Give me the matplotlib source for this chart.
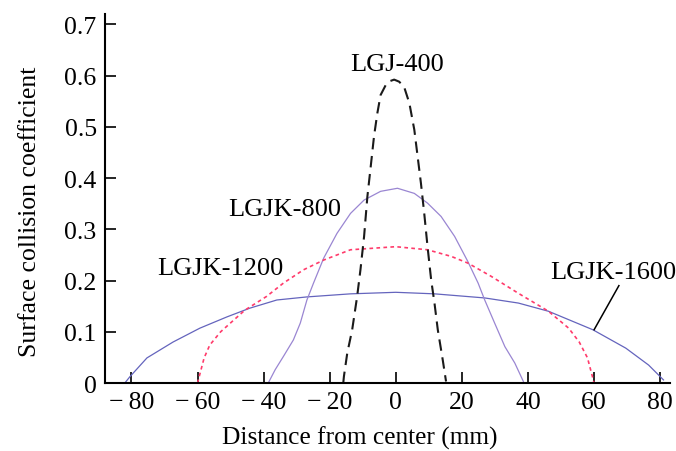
import numpy as np
import matplotlib
matplotlib.use('Agg')
import matplotlib.pyplot as plt

# Valores (distancia em mm, coeficiente)
x400 = [-15.9, -15.7, -14.7, -13.2, -11.7, -10.7, -9.6, -8.6, -7.6, -6.6, -5.6, -4.6, -3.0, -1.8, -0.5,
        1.0, 2.5, 4.1, 5.6, 6.6, 7.6, 8.6, 9.6, 10.7, 11.7, 12.7, 14.2, 15.2]
y400 = [0, 0.013, 0.058, 0.104, 0.169, 0.221, 0.286, 0.364, 0.422, 0.481, 0.526, 0.562, 0.582, 0.589, 0.592,
        0.588, 0.578, 0.546, 0.494, 0.442, 0.390, 0.331, 0.266, 0.201, 0.156, 0.104, 0.045, 0.003]

x800 = [-38.6, -36.5, -34.0, -31.0, -28.9, -26.9, -24.9, -21.8, -17.8, -13.7, -9.6, -4.6, 0.5,
        5.6, 9.6, 13.7, 17.8, 21.8, 24.9, 26.9, 29.9, 33.0, 36.0, 38.6]
y800 = [0, 0.026, 0.052, 0.084, 0.117, 0.162, 0.195, 0.244, 0.292, 0.331, 0.357, 0.374, 0.380,
        0.370, 0.351, 0.325, 0.286, 0.237, 0.195, 0.162, 0.117, 0.071, 0.039, 0.003]

x1200 = [-60, -58, -56.3, -53, -45.7, -39.1, -34.0, -27.9, -21.8, -13.7, 0, 9.6, 16.8, 21.8,
         28.9, 37.1, 46.2, 52.3, 55.5, 58, 60]
y1200 = [0, 0.049, 0.074, 0.10, 0.142, 0.169, 0.195, 0.221, 0.240, 0.260, 0.266, 0.260, 0.247, 0.234,
         0.208, 0.175, 0.140, 0.107, 0.08, 0.049, 0]

x1600 = [-82, -80.5, -75.3, -67.4, -59.3, -51.1, -44.2, -36.0, -26.9, -13.7, 0, 11.7, 26.9, 37.1,
         46.2, 59.6, 69.6, 76.5, 81]
y1600 = [0, 0.012, 0.049, 0.08, 0.107, 0.129, 0.146, 0.162, 0.168, 0.174, 0.177, 0.174, 0.166, 0.156,
         0.140, 0.104, 0.068, 0.035, 0.006]

xticks = [-80, -60, -40, -20, 0, 20, 40, 60, 80]
yticks = [0, 0.1, 0.2, 0.3, 0.4, 0.5, 0.6, 0.7]
ylabels = ['0', '0.1', '0.2', '0.3', '0.4', '0.5', '0.6', '0.7']

plt.rcParams['font.family'] = ['Liberation Serif', 'DejaVu Serif']

fig = plt.figure(figsize=(6.76, 4.52), dpi=100)
ax = fig.add_axes([0.1553, 0.1504, 0.836, 0.8164])

ax.plot(x1600, y1600, color='#6464bd', lw=0.9)
ax.plot(x800, y800, color='#9a86d2', lw=0.9)
ax.plot(x1200, y1200, color='#ff3b6b', lw=1.2, dashes=(2.2, 2.0))
ax.plot(x400, y400, color='#1a1a1a', lw=1.5, dashes=(5.5, 3.2))

ax.text(0.3, 0.622, 'LGJ-400', ha='center', va='center', fontsize=19)
ax.text(-33.7, 0.339, 'LGJK-800', ha='center', va='center', fontsize=19)
ax.text(-53, 0.224, 'LGJK-1200', ha='center', va='center', fontsize=19)
ax.text(46.7, 0.216, 'LGJK-1600', ha='left', va='center', fontsize=19, clip_on=False)
ax.plot([60, 67.5], [0.104, 0.19], color='k', lw=1.1)

ax.set_xlim(-88, 83)
ax.set_ylim(0, 0.72)
ax.set_xticks(xticks)
ax.set_xticklabels([('\u2212\u2009' + str(-v)) if v < 0 else str(v) for v in xticks])
ax.set_yticks(yticks)
ax.set_yticklabels(ylabels)
ax.tick_params(direction='in', length=8, width=1.2, labelsize=18.5, pad=6)
ax.spines['top'].set_visible(False)
ax.spines['right'].set_visible(False)
for s in ['left', 'bottom']:
    ax.spines[s].set_linewidth(1.5)

ax.set_xlabel('Distance from center (mm)', fontsize=18.3)
ax.set_ylabel('Surface collision coefficient', fontsize=18.5)
ax.xaxis.set_label_coords(0.451, -0.148)
ax.xaxis.label.set_verticalalignment('center')
ax.yaxis.set_label_coords(-0.133, 0.466)
ax.yaxis.label.set_verticalalignment('center')

plt.savefig('out.png', dpi=100)
